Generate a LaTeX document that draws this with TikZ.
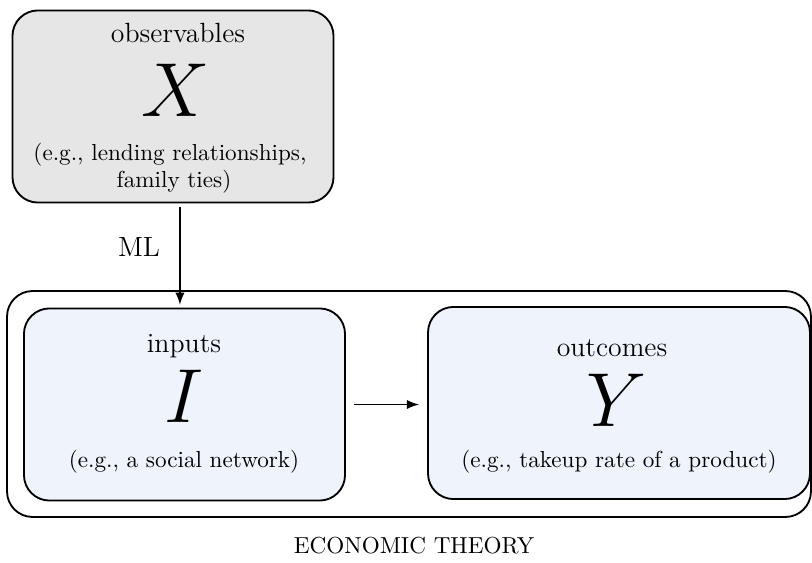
\documentclass[tikz,border=0pt]{standalone}
\usepackage{amsmath}
\usepackage{tikz}

\definecolor{obsgray}{RGB}{230,230,230}
\definecolor{modelblue}{RGB}{238,243,252}
\newcommand{\bigsym}[1]{\scalebox{1.33}{\Huge$#1$}}

\begin{document}
\begin{tikzpicture} [x=0.432pt, y=-0.432pt, >=latex, line width=0.8pt,
                    box node/.style={draw, rounded corners=11pt, inner sep=0pt,
                                     minimum width=138.7pt, minimum height=83pt},
                    big letter/.style={anchor=base, inner sep=0pt},
                    title text/.style={anchor=base, inner sep=0pt, font=\large},
                    small text/.style={anchor=base, inner sep=0pt}]
    \useasboundingbox (0,0) rectangle (812,563);

    % outer frame
    \node[draw, rounded corners=11pt, inner sep=0pt, minimum width=347.3pt,
          minimum height=97.6pt] (theory) at (409,404) {};
    \node[small text] (theorylabel) at (414,553) {ECONOMIC THEORY};

    % boxes
    \node[box node, fill=obsgray] (X) at (173,106.5) {};
    \node[box node, fill=modelblue] (I) at (184.5,404.5) {};
    \node[box node, fill=modelblue, minimum width=165pt] (Y) at (619,403) {};

    % texts inside the boxes
    \node[title text] (Xtitle) at (178,43) {observables};
    \node[big letter] (Xsym) at (176,117) {\bigsym{X}};
    \node[small text] (Xex1) at (170,161) {(e.g., lending relationships,};
    \node[small text] (Xex2) at (174,188) {family ties)};

    \node[title text] (Ititle) at (184,352) {inputs};
    \node[big letter] (Isym) at (184,422) {\bigsym{I}};
    \node[small text] (Iex) at (184,467) {(e.g., a social network)};

    \node[title text] (Ytitle) at (612,356) {outcomes};
    \node[big letter] (Ysym) at (617,426) {\bigsym{Y}};
    \node[small text] (Yex) at (619,467) {(e.g., takeup rate of a product)};

    % arrows
    \draw[->, shorten <=1.7pt, shorten >=1.2pt] ([xshift=3pt]X.south)
        -- ([xshift=3pt]X.south |- I.north);
    \node[title text] (ml) at (139,257) {ML};
    \draw[->, shorten <=3.5pt, shorten >=3.5pt] (I.east) -- (I.east -| Y.west);
\end{tikzpicture}
\end{document}
